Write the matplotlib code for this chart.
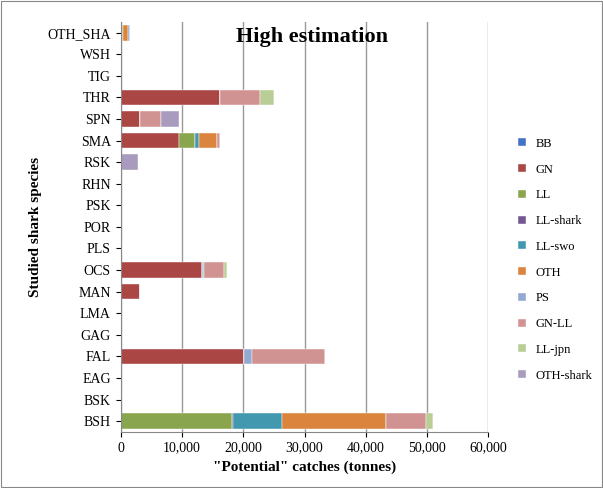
import matplotlib.pyplot as plt
import numpy as np
from matplotlib.ticker import FuncFormatter

plt.rcParams['font.family'] = ['Liberation Serif', 'DejaVu Serif']

species = ["BSH", "BSK", "EAG", "FAL", "GAG", "LMA", "MAN", "OCS", "PLS", "POR",
           "PSK", "RHN", "RSK", "SMA", "SPN", "THR", "TIG", "WSH", "OTH_SHA"]
gears = ["BB", "GN", "LL", "LL-shark", "LL-swo", "OTH", "PS", "GN-LL", "LL-jpn", "OTH-shark"]
colors = ["#4472C4", "#AA4643", "#89A54E", "#71588F", "#4198AF", "#DB843D",
          "#93A9CF", "#D19392", "#B9CD96", "#A99BBD"]

# catches (tonnes) per gear, in species order
BB = [0] * 19
GN = [0, 0, 0, 20160, 0, 0, 3220, 13280, 0, 0, 0, 0, 0, 9450, 3220, 16170, 0, 0, 0]
LL = [18200, 0, 0, 0, 0, 0, 0, 0, 0, 0, 0, 0, 0, 2680, 0, 0, 0, 0, 330]
LL_shark = [200, 0, 0, 0, 0, 0, 0, 0, 0, 0, 0, 0, 0, 0, 0, 0, 0, 0, 0]
LL_swo = [8000, 0, 0, 0, 0, 0, 0, 100, 0, 0, 0, 0, 0, 600, 0, 0, 0, 0, 0]
OTH = [16900, 0, 0, 0, 0, 0, 0, 0, 0, 0, 0, 0, 0, 2950, 0, 0, 0, 0, 930]
PS = [0, 0, 0, 1200, 0, 0, 0, 200, 0, 0, 0, 0, 0, 0, 0, 0, 0, 0, 270]
GN_LL = [6500, 0, 0, 11900, 0, 0, 0, 3300, 0, 0, 0, 0, 0, 600, 3390, 6560, 0, 0, 0]
LL_jpn = [1100, 0, 0, 0, 0, 0, 0, 550, 200, 0, 0, 0, 0, 0, 0, 2240, 0, 0, 0]
OTH_shark = [0, 0, 0, 0, 0, 0, 0, 0, 0, 0, 0, 0, 2900, 0, 2840, 0, 0, 0, 0]
series = [BB, GN, LL, LL_shark, LL_swo, OTH, PS, GN_LL, LL_jpn, OTH_shark]

fig = plt.figure(figsize=(6.03, 4.88), dpi=100)
ax = fig.add_axes([0.2, 0.115, 0.61, 0.84])
y = np.arange(len(species))
left = np.zeros(len(species))
for name, vals, c in zip(gears, series, colors):
    ax.barh(y, vals, left=left, height=0.72, color=c, label=name, edgecolor='white', linewidth=0.3)
    left += np.array(vals)

ax.set_xlim(0, 60000)
ax.set_ylim(-0.5, len(species) - 0.5)
ax.set_yticks(y)
ax.set_yticklabels(species, fontsize=10)
ax.set_xticks(range(0, 60001, 10000))
ax.xaxis.set_major_formatter(FuncFormatter(lambda v, p: f"{int(v):,}"))
ax.tick_params(axis='x', labelsize=10)
ax.grid(axis='x', color='#999999', linewidth=1)
ax.set_axisbelow(True)
for s in ['top', 'right']:
    ax.spines[s].set_visible(False)
ax.spines['left'].set_color('#888888')
ax.spines['bottom'].set_color('#888888')
ax.set_xlabel('"Potential" catches (tonnes)', fontsize=11, fontweight='bold')
ax.set_ylabel('Studied shark species', fontsize=11, fontweight='bold')
ax.set_title('High estimation', fontsize=16, fontweight='bold', x=0.52, y=0.93)

ax.legend(loc='center left', bbox_to_anchor=(1.05, 0.42), frameon=False, fontsize=9,
          handlelength=0.6, handleheight=0.6, labelspacing=1.1)
fig.patches.append(plt.Rectangle((0.002, 0.002), 0.996, 0.996, transform=fig.transFigure,
                                 fill=False, edgecolor='#888888', linewidth=0.8))
fig.savefig("out.png", dpi=100)
